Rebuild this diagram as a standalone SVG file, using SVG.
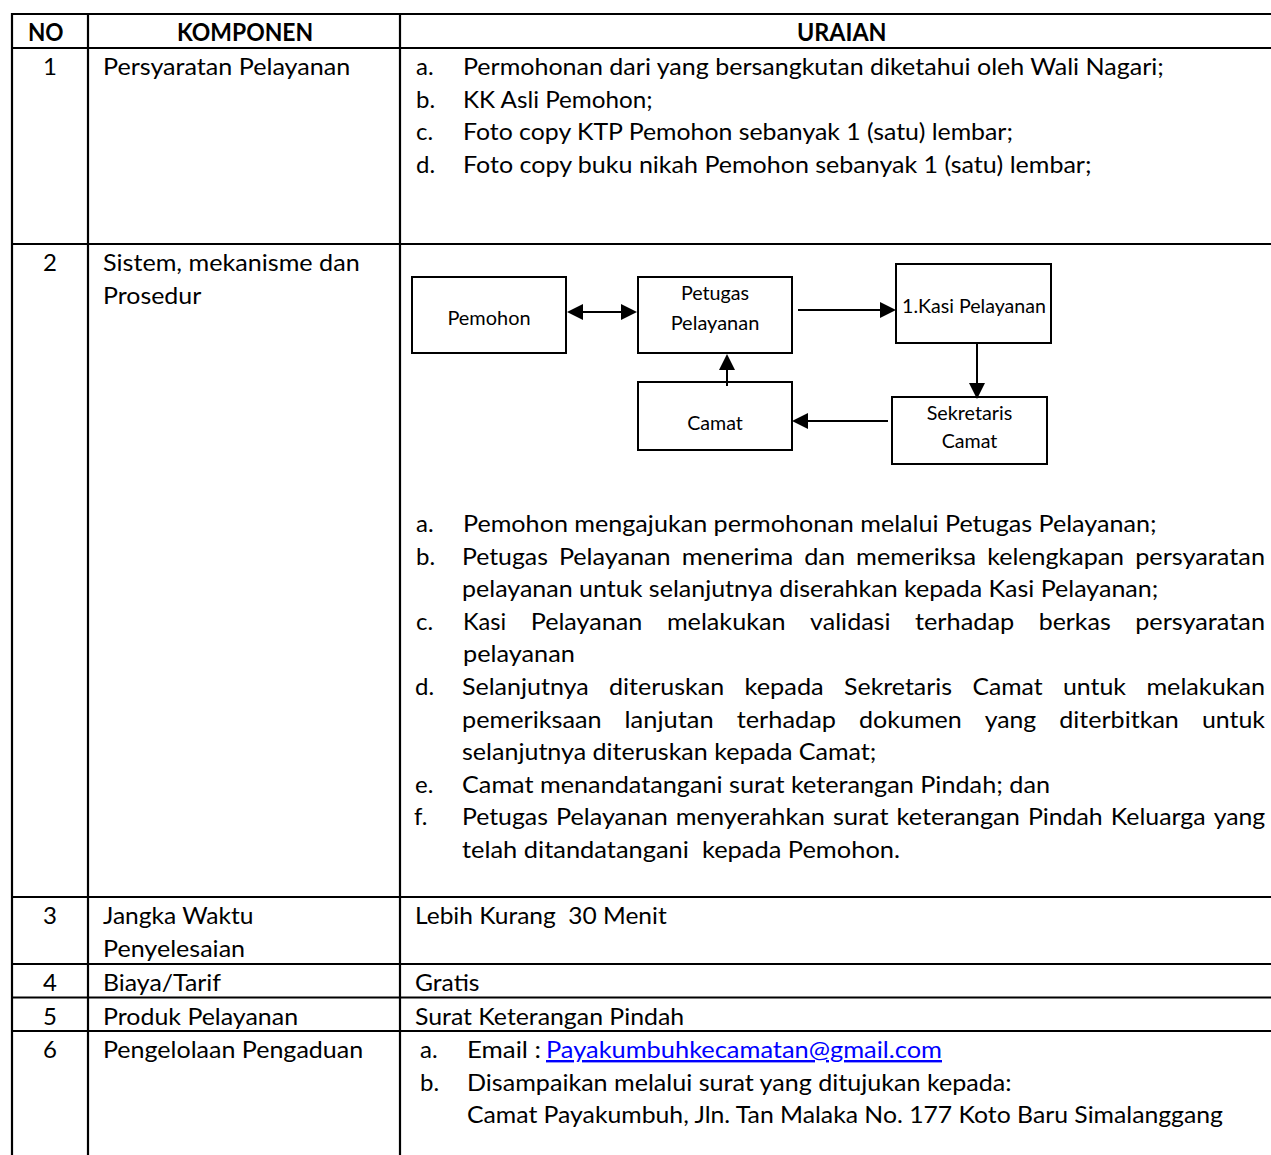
<svg xmlns="http://www.w3.org/2000/svg" width="1271" height="1155" viewBox="0 0 1271 1155">
  <style>
    .t { font-family: Lato, "Open Sans", "Liberation Sans", sans-serif; font-size: 24px; fill: #000; }
    .h { font-family: Lato, "Open Sans", "Liberation Sans", sans-serif; font-size: 24px; font-weight: bold; fill: #000; }
    .n { font-family: Lato, "Open Sans", "Liberation Sans", sans-serif; font-size: 19px; fill: #000; text-anchor: middle; }
    .c { text-anchor: middle; }
    .grid line { stroke: #000; stroke-width: 2.2; }
    .box { fill: #fff; stroke: #000; stroke-width: 2; }
    .edge { stroke: #000; stroke-width: 2; fill: none; }
    .link { fill: #0000ff; text-decoration: underline; }
  </style>
  <defs>
    <marker id="head" viewBox="0 0 16 16" refX="8" refY="8" markerWidth="16" markerHeight="16" markerUnits="userSpaceOnUse" orient="auto-start-reverse">
      <path d="M0,0 L16,8 L0,16 z" fill="#000"/>
    </marker>
  </defs>
  <rect width="1271" height="1155" fill="#fff"/>

  <!-- table rules -->
  <g class="grid">
    <line x1="11" y1="14" x2="1271" y2="14"/>
    <line x1="11" y1="48" x2="1271" y2="48"/>
    <line x1="11" y1="244" x2="1271" y2="244"/>
    <line x1="11" y1="897" x2="1271" y2="897"/>
    <line x1="11" y1="964" x2="1271" y2="964"/>
    <line x1="11" y1="997.5" x2="1271" y2="997.5"/>
    <line x1="11" y1="1031" x2="1271" y2="1031"/>
    <line x1="12" y1="13" x2="12" y2="1155"/>
    <line x1="88" y1="13" x2="88" y2="1155"/>
    <line x1="400" y1="13" x2="400" y2="1155"/>
  </g>

  <!-- header -->
  <g id="header">
    <text class="h" x="28" y="41" textLength="35.6" lengthAdjust="spacingAndGlyphs">NO</text>
    <text class="h" x="177" y="41" textLength="136.2" lengthAdjust="spacingAndGlyphs">KOMPONEN</text>
    <text class="h" x="797" y="41" textLength="89.6" lengthAdjust="spacingAndGlyphs">URAIAN</text>
  </g>

  <!-- row 1 -->
  <g id="row1">
    <text class="t c" x="50" y="75">1</text>
    <text class="t" x="103" y="75" textLength="247.3" lengthAdjust="spacingAndGlyphs">Persyaratan Pelayanan</text>
    <text class="t" x="416" y="75">a.</text>
    <text class="t" x="463" y="75" textLength="700.8" lengthAdjust="spacingAndGlyphs">Permohonan dari yang bersangkutan diketahui oleh Wali Nagari;</text>
    <text class="t" x="416" y="107.6">b.</text>
    <text class="t" x="463" y="107.6" textLength="189.7" lengthAdjust="spacingAndGlyphs">KK Asli Pemohon;</text>
    <text class="t" x="416" y="140.2">c.</text>
    <text class="t" x="463" y="140.2" textLength="549.9" lengthAdjust="spacingAndGlyphs">Foto copy KTP Pemohon sebanyak 1 (satu) lembar;</text>
    <text class="t" x="416" y="172.8">d.</text>
    <text class="t" x="463" y="172.8" textLength="628.5" lengthAdjust="spacingAndGlyphs">Foto copy buku nikah Pemohon sebanyak 1 (satu) lembar;</text>
  </g>

  <!-- row 2 -->
  <g id="row2">
    <text class="t c" x="50" y="271">2</text>
    <text class="t" x="103" y="271" textLength="256.7" lengthAdjust="spacingAndGlyphs">Sistem, mekanisme dan</text>
    <text class="t" x="103" y="303.6" textLength="98.3" lengthAdjust="spacingAndGlyphs">Prosedur</text>
  </g>

  <!-- flow chart nodes -->
  <g id="node-pemohon">
    <rect class="box" x="412" y="277" width="154" height="76"/>
    <text class="n" x="489" y="325" textLength="83.1" lengthAdjust="spacingAndGlyphs">Pemohon</text>
  </g>
  <g id="node-petugas">
    <rect class="box" x="638" y="277" width="154" height="76"/>
    <text class="n" x="715" y="299.5" textLength="68.2" lengthAdjust="spacingAndGlyphs">Petugas</text>
    <text class="n" x="715" y="329.5" textLength="88.7" lengthAdjust="spacingAndGlyphs">Pelayanan</text>
  </g>
  <g id="node-kasi">
    <rect class="box" x="896" y="264" width="155" height="79"/>
    <text class="n" x="974" y="313" textLength="143.9" lengthAdjust="spacingAndGlyphs">1.Kasi Pelayanan</text>
  </g>
  <g id="node-camat">
    <rect class="box" x="638" y="382" width="154" height="68"/>
    <text class="n" x="715" y="429.5" textLength="55.7" lengthAdjust="spacingAndGlyphs">Camat</text>
  </g>
  <g id="node-sekretaris">
    <rect class="box" x="892" y="397" width="155" height="67"/>
    <text class="n" x="969.5" y="419.5" textLength="85.7" lengthAdjust="spacingAndGlyphs">Sekretaris</text>
    <text class="n" x="969.5" y="448" textLength="55.7" lengthAdjust="spacingAndGlyphs">Camat</text>
  </g>

  <!-- flow chart connectors -->
  <g id="connectors">
    <line class="edge" x1="575" y1="312" x2="629" y2="312" marker-start="url(#head)" marker-end="url(#head)"/>
    <line class="edge" x1="798" y1="310" x2="888" y2="310" marker-end="url(#head)"/>
    <line class="edge" x1="977" y1="343" x2="977" y2="391" marker-end="url(#head)"/>
    <line class="edge" x1="888" y1="421" x2="800" y2="421" marker-end="url(#head)"/>
    <line class="edge" x1="727" y1="386" x2="727" y2="362" marker-end="url(#head)"/>
  </g>

  <!-- row 2 procedure list -->
  <g id="procedure">
    <text class="t" x="416" y="532">a.</text>
    <text class="t" x="463" y="532" textLength="693.6" lengthAdjust="spacingAndGlyphs">Pemohon mengajukan permohonan melalui Petugas Pelayanan;</text>

    <text class="t" x="416" y="564.6">b.</text>
    <text class="t" y="564.6" lengthAdjust="spacingAndGlyphs"><tspan x="462" textLength="85.9" lengthAdjust="spacingAndGlyphs">Petugas</tspan><tspan x="558.9" textLength="111.7" lengthAdjust="spacingAndGlyphs">Pelayanan</tspan><tspan x="681.7" textLength="111.5" lengthAdjust="spacingAndGlyphs">menerima</tspan><tspan x="804.2" textLength="40.8" lengthAdjust="spacingAndGlyphs">dan</tspan><tspan x="856.1" textLength="120.1" lengthAdjust="spacingAndGlyphs">memeriksa</tspan><tspan x="987.2" textLength="136.9" lengthAdjust="spacingAndGlyphs">kelengkapan</tspan><tspan x="1135.2" textLength="129.8" lengthAdjust="spacingAndGlyphs">persyaratan</tspan></text>
    <text class="t" x="462" y="597.2" textLength="696.3" lengthAdjust="spacingAndGlyphs">pelayanan untuk selanjutnya diserahkan kepada Kasi Pelayanan;</text>

    <text class="t" x="416" y="629.8">c.</text>
    <text class="t" y="629.8"><tspan x="463" textLength="43.2" lengthAdjust="spacingAndGlyphs">Kasi</tspan><tspan x="530.7" textLength="111.7" lengthAdjust="spacingAndGlyphs">Pelayanan</tspan><tspan x="666.9" textLength="118.7" lengthAdjust="spacingAndGlyphs">melakukan</tspan><tspan x="810.1" textLength="80.4" lengthAdjust="spacingAndGlyphs">validasi</tspan><tspan x="915" textLength="99.2" lengthAdjust="spacingAndGlyphs">terhadap</tspan><tspan x="1038.7" textLength="72" lengthAdjust="spacingAndGlyphs">berkas</tspan><tspan x="1135.2" textLength="129.8" lengthAdjust="spacingAndGlyphs">persyaratan</tspan></text>
    <text class="t" x="463" y="662.4" textLength="111.9" lengthAdjust="spacingAndGlyphs">pelayanan</text>

    <text class="t" x="415" y="695">d.</text>
    <text class="t" y="695"><tspan x="462" textLength="126.7" lengthAdjust="spacingAndGlyphs">Selanjutnya</tspan><tspan x="609.1" textLength="115.1" lengthAdjust="spacingAndGlyphs">diteruskan</tspan><tspan x="744.6" textLength="79.1" lengthAdjust="spacingAndGlyphs">kepada</tspan><tspan x="844.1" textLength="107.9" lengthAdjust="spacingAndGlyphs">Sekretaris</tspan><tspan x="972.4" textLength="70.1" lengthAdjust="spacingAndGlyphs">Camat</tspan><tspan x="1062.9" textLength="63.1" lengthAdjust="spacingAndGlyphs">untuk</tspan><tspan x="1146.4" textLength="118.7" lengthAdjust="spacingAndGlyphs">melakukan</tspan></text>
    <text class="t" y="727.6"><tspan x="462" textLength="139.6" lengthAdjust="spacingAndGlyphs">pemeriksaan</tspan><tspan x="624.6" textLength="89.1" lengthAdjust="spacingAndGlyphs">lanjutan</tspan><tspan x="736.7" textLength="99.2" lengthAdjust="spacingAndGlyphs">terhadap</tspan><tspan x="858.9" textLength="102.9" lengthAdjust="spacingAndGlyphs">dokumen</tspan><tspan x="984.7" textLength="51.5" lengthAdjust="spacingAndGlyphs">yang</tspan><tspan x="1059.2" textLength="119.7" lengthAdjust="spacingAndGlyphs">diterbitkan</tspan><tspan x="1201.9" textLength="63.1" lengthAdjust="spacingAndGlyphs">untuk</tspan></text>
    <text class="t" x="462" y="760.2" textLength="414.4" lengthAdjust="spacingAndGlyphs">selanjutnya diteruskan kepada Camat;</text>

    <text class="t" x="415" y="792.8">e.</text>
    <text class="t" x="462" y="792.8" textLength="588" lengthAdjust="spacingAndGlyphs">Camat menandatangani surat keterangan Pindah; dan</text>

    <text class="t" x="414" y="825.4">f.</text>
    <text class="t" y="825.4"><tspan x="462" textLength="85.9" lengthAdjust="spacingAndGlyphs">Petugas</tspan><tspan x="556" textLength="111.7" lengthAdjust="spacingAndGlyphs">Pelayanan</tspan><tspan x="675.8" textLength="149.1" lengthAdjust="spacingAndGlyphs">menyerahkan</tspan><tspan x="833" textLength="55.5" lengthAdjust="spacingAndGlyphs">surat</tspan><tspan x="896.6" textLength="123.2" lengthAdjust="spacingAndGlyphs">keterangan</tspan><tspan x="1027.9" textLength="74.8" lengthAdjust="spacingAndGlyphs">Pindah</tspan><tspan x="1110.8" textLength="94.8" lengthAdjust="spacingAndGlyphs">Keluarga</tspan><tspan x="1213.7" textLength="51.5" lengthAdjust="spacingAndGlyphs">yang</tspan></text>
    <text class="t" x="462" y="858" xml:space="preserve" textLength="438" lengthAdjust="spacingAndGlyphs">telah ditandatangani  kepada Pemohon.</text>
  </g>

  <!-- row 3 -->
  <g id="row3">
    <text class="t c" x="50" y="924">3</text>
    <text class="t" x="103" y="924" textLength="150.5" lengthAdjust="spacingAndGlyphs">Jangka Waktu</text>
    <text class="t" x="103" y="956.6" textLength="142.1" lengthAdjust="spacingAndGlyphs">Penyelesaian</text>
    <text class="t" x="415" y="924" xml:space="preserve" textLength="251.7" lengthAdjust="spacingAndGlyphs">Lebih Kurang  30 Menit</text>
  </g>

  <!-- row 4 -->
  <g id="row4">
    <text class="t c" x="50" y="991">4</text>
    <text class="t" x="103" y="991" textLength="118" lengthAdjust="spacingAndGlyphs">Biaya/Tarif</text>
    <text class="t" x="415" y="991" textLength="64.5" lengthAdjust="spacingAndGlyphs">Gratis</text>
  </g>

  <!-- row 5 -->
  <g id="row5">
    <text class="t c" x="50" y="1025">5</text>
    <text class="t" x="103" y="1025" textLength="195.1" lengthAdjust="spacingAndGlyphs">Produk Pelayanan</text>
    <text class="t" x="415" y="1025" textLength="269.1" lengthAdjust="spacingAndGlyphs">Surat Keterangan Pindah</text>
  </g>

  <!-- row 6 -->
  <g id="row6">
    <text class="t c" x="50" y="1058">6</text>
    <text class="t" x="103" y="1058" textLength="260.2" lengthAdjust="spacingAndGlyphs">Pengelolaan Pengaduan</text>
    <text class="t" x="420" y="1058">a.</text>
    <text class="t" x="467" y="1058" textLength="74" lengthAdjust="spacingAndGlyphs">Email :</text>
    <text class="t link" x="546" y="1058" textLength="396" lengthAdjust="spacingAndGlyphs">Payakumbuhkecamatan@gmail.com</text>
    <text class="t" x="420" y="1090.6">b.</text>
    <text class="t" x="467" y="1090.6" textLength="544.6" lengthAdjust="spacingAndGlyphs">Disampaikan melalui surat yang ditujukan kepada:</text>
    <text class="t" x="467" y="1123.2" textLength="756" lengthAdjust="spacingAndGlyphs">Camat Payakumbuh, Jln. Tan Malaka No. 177 Koto Baru Simalanggang</text>
  </g>
</svg>
